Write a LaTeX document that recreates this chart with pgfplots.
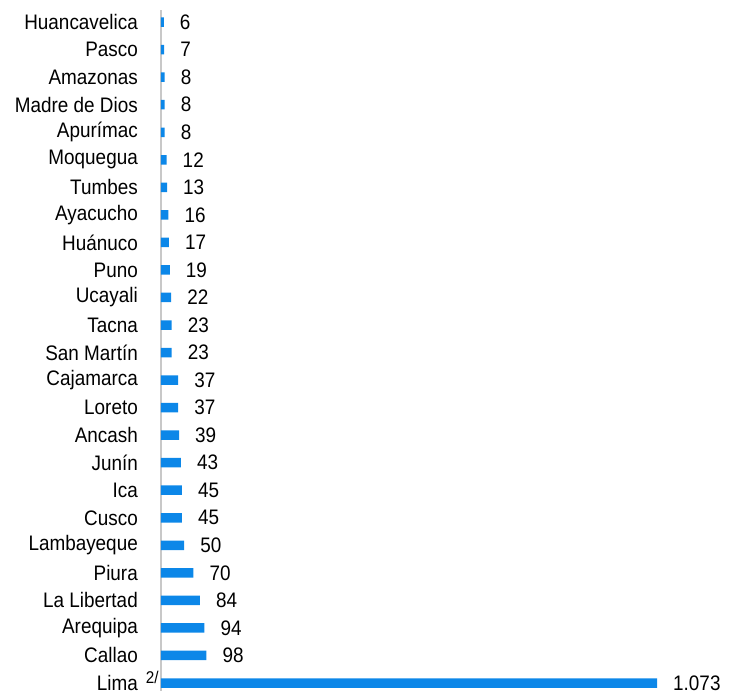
\documentclass[border=0pt]{standalone}
\usepackage{pgfplots}
\pgfplotsset{compat=1.18}
\usepackage{fontspec}
\setmainfont{Liberation Sans}[FakeStretch=0.9]
\definecolor{barblue}{RGB}{12,135,232}
\definecolor{axgray}{RGB}{200,200,200}
\begin{document}
\begin{tikzpicture}
\begin{axis}[
  scale only axis,
  width=576bp, height=681bp,
  xbar, bar width=9.5bp,
  xmin=0, xmax=1246,
  ymin=-0.29, ymax=24.44,
  axis x line=none,
  axis y line*=left,
  y axis line style={draw=axgray, line width=1.5bp},
  ytick={0,...,24},
  major tick length=0pt,
  yticklabels={{Lima\rlap{\hspace{8bp}\smash{\raisebox{7bp}{\fontsize{17bp}{19bp}\selectfont 2/}}}},Callao,Arequipa,La Libertad,Piura,Lambayeque,Cusco,Ica,Junín,Ancash,Loreto,Cajamarca,San Martín,Tacna,Ucayali,Puno,Huánuco,Ayacucho,Tumbes,Moquegua,Apurímac,Madre de Dios,Amazonas,Pasco,Huancavelica},
  yticklabel style={font=\fontsize{21bp}{24bp}\selectfont, inner sep=0pt, anchor=east, xshift=-23bp},
  nodes near coords={\pgfmathprintnumber[assume math mode=true,1000 sep={.}]{\pgfplotspointmeta}},
  every node near coord/.style={anchor=west, inner sep=0pt, xshift=16bp, font=\fontsize{21bp}{24bp}\selectfont, black},
  clip=false,
]
\addplot[fill=barblue, draw=none] coordinates {
(1073,0) (98,1) (94,2) (84,3) (70,4) (50,5) (45,6) (45,7) (43,8) (39,9)
(37,10) (37,11) (23,12) (23,13) (22,14) (19,15) (17,16) (16,17) (13,18) (12,19)
(8,20) (8,21) (8,22) (7,23) (6,24)
};
\end{axis}
\pgfresetboundingbox
\path (-161bp,0) rectangle (576bp,691bp);
\end{tikzpicture}
\end{document}
